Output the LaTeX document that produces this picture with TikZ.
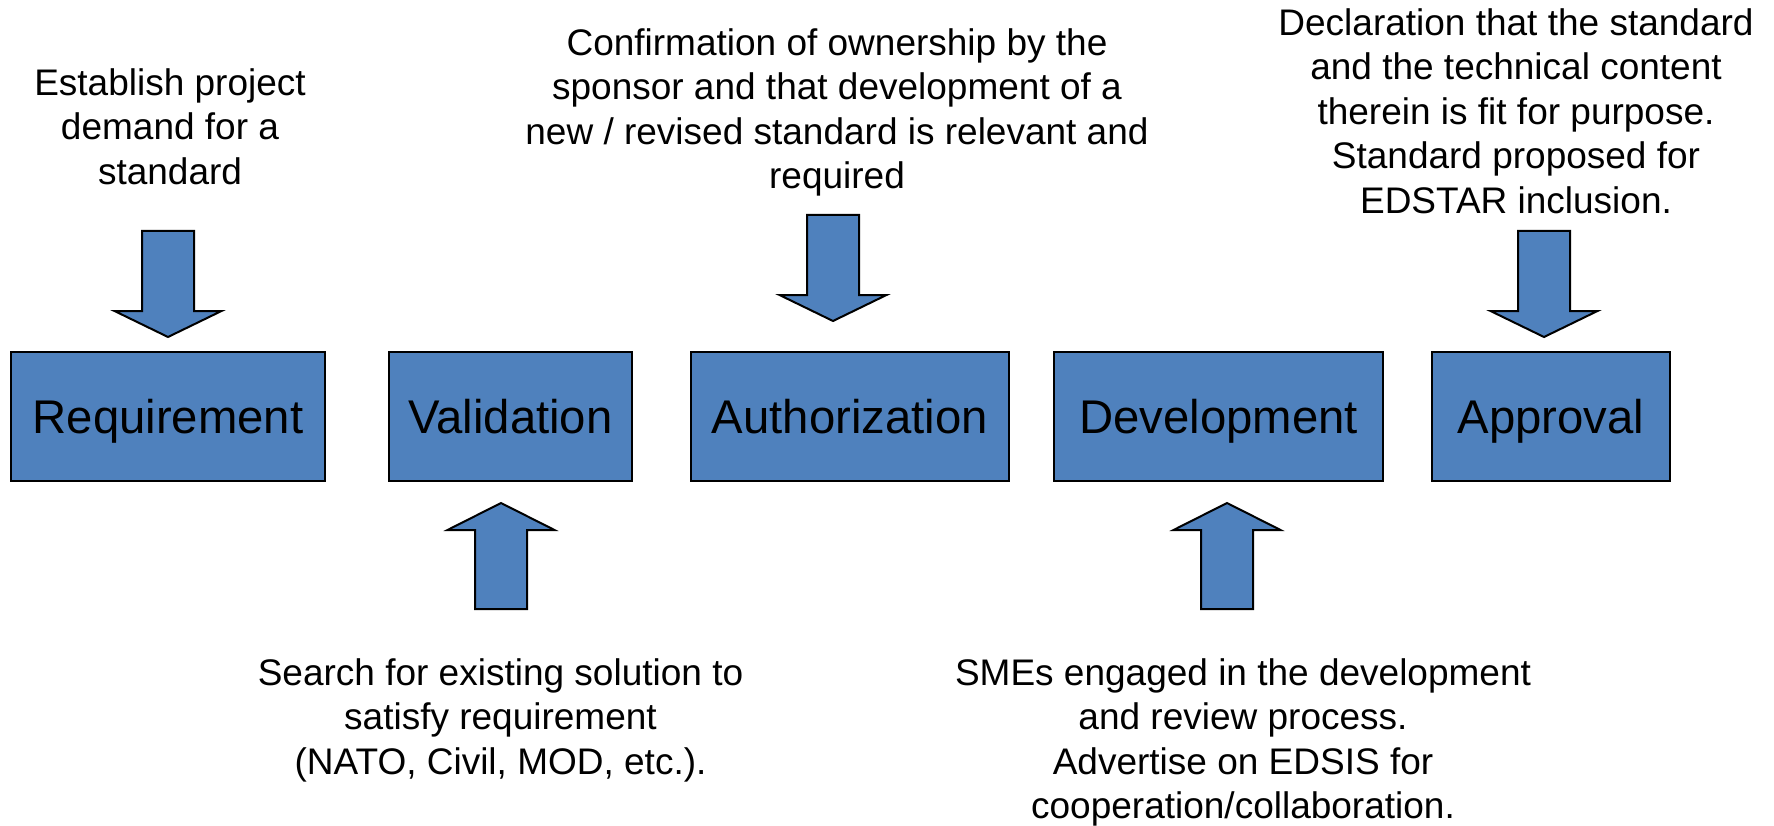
\documentclass[tikz,border=0pt]{standalone}
\usepackage{fontspec}
\setmainfont{Liberation Sans}
\definecolor{boxblue}{RGB}{79,129,189}
\begin{document}
\begin{tikzpicture}[x=1pt,y=-1pt,
  stage/.style={draw=black, line width=2pt, fill=boxblue, inner sep=0pt,
    minimum height=129pt, font=\fontsize{47.3}{56}\selectfont,
    text height=34pt, text depth=0pt},
  note/.style={align=center, inner sep=0pt, anchor=north,
    font=\fontsize{37}{44.5}\selectfont},
  blockarrow/.style={draw=black, line width=2pt, fill=boxblue, line join=miter},
  pics/downarrow/.style={code={\draw[blockarrow] (-26,0) -- (26,0) -- (26,80) -- (53.5,80) -- (0,106) -- (-53.5,80) -- (-26,80) -- cycle;}},
  pics/uparrow/.style={code={\draw[blockarrow] (-26,0) -- (26,0) -- (26,-79) -- (53.5,-79) -- (0,-106) -- (-53.5,-79) -- (-26,-79) -- cycle;}}
]
\useasboundingbox (0,0) rectangle (1774,826);

% stage boxes
\node[stage, minimum width=314pt] (req) at (168,416.5) {Requirement};
\node[stage, minimum width=243pt] (val) at (510.5,416.5) {Validation};
\node[stage, minimum width=318pt] (aut) at (850,416.5) {Authorization};
\node[stage, minimum width=329pt] (dev) at (1218.5,416.5) {Development};
\node[stage, minimum width=238pt] (app) at (1551,416.5) {Approval};

% block arrows
\pic (areq) at (168,231) {downarrow};
\pic (aaut) at (833,215) {downarrow};
\pic (aapp) at (1544,231) {downarrow};
\pic (aval) at (501,609) {uparrow};
\pic (adev) at (1227,609) {uparrow};

% notes
\node[note] (treq) at (170,68) {Establish project\\demand for a\\standard};
\node[note] (taut) at (837,28) {Confirmation of ownership by the\\sponsor and that development of a\\new / revised standard is relevant and\\required};
\node[note] (tapp) at (1516,8) {Declaration that the standard\\and the technical content\\therein is fit for purpose.\\Standard proposed for\\EDSTAR inclusion.};
\node[note] (tval) at (500.5,658) {Search for existing solution to\\satisfy requirement\\(NATO, Civil, MOD, etc.).};
\node[note] (tdev) at (1243,658) {SMEs engaged in the development\\and review process.\\Advertise on EDSIS for\\cooperation/collaboration.};
\end{tikzpicture}
\end{document}
